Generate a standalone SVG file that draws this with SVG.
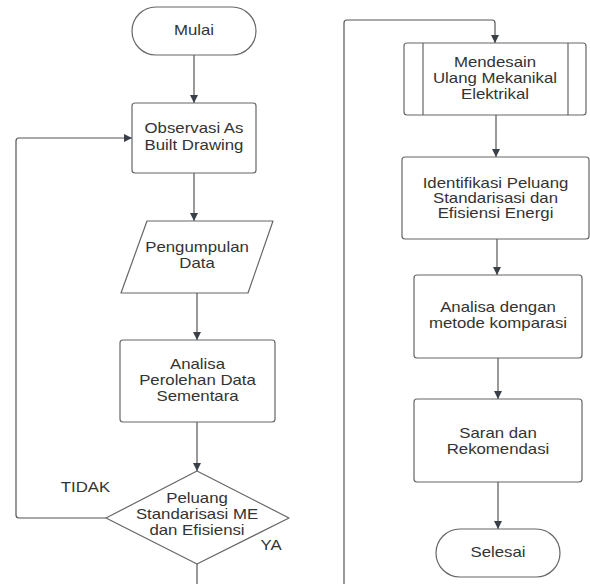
<svg xmlns="http://www.w3.org/2000/svg" width="590" height="584" viewBox="0 0 590 584">
<style>
.s{fill:#fff;stroke:#666;stroke-width:1.2}
.c{fill:none;stroke:#555;stroke-width:1.2}
.t{font-family:"Liberation Sans",Arial,sans-serif;font-size:14px;fill:#333;text-anchor:middle}
</style>
<defs>
<marker id="ah" viewBox="0 0 10 10" markerWidth="9" markerHeight="8" markerUnits="userSpaceOnUse" refX="10" refY="5" orient="auto">
<path d="M0,0 L10,5 L0,10 z" fill="#3a4048"/>
</marker>
</defs>
<rect width="590" height="584" fill="#fff"/>
<g id="connectors">
<path class="c" d="M194 55 V103" marker-end="url(#ah)"/>
<path class="c" d="M194 173 V221" marker-end="url(#ah)"/>
<path class="c" d="M197 293 V340" marker-end="url(#ah)"/>
<path class="c" d="M197 422 V471" marker-end="url(#ah)"/>
<path class="c" d="M106 518 H19 Q16 518 16 515 V141 Q16 138 19 138 H132" marker-end="url(#ah)"/>
<path class="c" d="M197 564 V584"/>
<path class="c" d="M344 584 V23 Q344 20 347 20 H492 Q495 20 495 23 V43" marker-end="url(#ah)"/>
<path class="c" d="M496 115 V157" marker-end="url(#ah)"/>
<path class="c" d="M497 239 V275" marker-end="url(#ah)"/>
<path class="c" d="M498 358 V399" marker-end="url(#ah)"/>
<path class="c" d="M498 482 V529" marker-end="url(#ah)"/>
</g>
<g id="mulai">
<rect class="s" x="132" y="7" width="124" height="48" rx="24"/>
<text class="t" transform="translate(194 35) scale(1.2 1)">Mulai</text>
</g>
<g id="observasi">
<rect class="s" x="132" y="103" width="124" height="70" rx="3"/>
<text class="t" transform="translate(194 133) scale(1.2 1)"><tspan x="0">Observasi As</tspan><tspan x="0" dy="17">Built Drawing</tspan></text>
</g>
<g id="pengumpulan">
<path class="s" d="M147 221 H273 L248 293 H121 Z" stroke-linejoin="round"/>
<text class="t" transform="translate(197 252) scale(1.2 1)"><tspan x="0">Pengumpulan</tspan><tspan x="0" dy="16">Data</tspan></text>
</g>
<g id="analisa">
<rect class="s" x="120" y="340" width="155" height="82" rx="3"/>
<text class="t" transform="translate(197.5 369) scale(1.2 1)"><tspan x="0">Analisa</tspan><tspan x="0" dy="16">Perolehan Data</tspan><tspan x="0" dy="16">Sementara</tspan></text>
</g>
<g id="peluang">
<path class="s" d="M197 471 L289 518 L197 564 L106 518 Z" stroke-linejoin="round"/>
<text class="t" transform="translate(197 503) scale(1.2 1)"><tspan x="0">Peluang</tspan><tspan x="0" dy="16">Standarisasi ME</tspan><tspan x="0" dy="16">dan Efisiensi</tspan></text>
</g>
<g id="label-tidak">
<text class="t" transform="translate(85.5 492) scale(1.2 1)">TIDAK</text>
</g>
<g id="label-ya">
<text class="t" transform="translate(271 550) scale(1.2 1)">YA</text>
</g>
<g id="mendesain">
<rect class="s" x="404" y="43" width="182" height="72" rx="3"/>
<path class="s" d="M423 43 V115 M568 43 V115"/>
<text class="t" transform="translate(495 67) scale(1.2 1)"><tspan x="0">Mendesain</tspan><tspan x="0" dy="16">Ulang Mekanikal</tspan><tspan x="0" dy="16">Elektrikal</tspan></text>
</g>
<g id="identifikasi">
<rect class="s" x="402" y="157" width="187" height="82" rx="3"/>
<text class="t" transform="translate(495.5 188) scale(1.2 1)"><tspan x="0">Identifikasi Peluang</tspan><tspan x="0" dy="15">Standarisasi dan</tspan><tspan x="0" dy="15">Efisiensi Energi</tspan></text>
</g>
<g id="analisa-komparasi">
<rect class="s" x="414" y="275" width="168" height="83" rx="3"/>
<text class="t" transform="translate(498 312) scale(1.2 1)"><tspan x="0">Analisa dengan</tspan><tspan x="0" dy="16">metode komparasi</tspan></text>
</g>
<g id="saran">
<rect class="s" x="414" y="399" width="168" height="83" rx="3"/>
<text class="t" transform="translate(498 438) scale(1.2 1)"><tspan x="0">Saran dan</tspan><tspan x="0" dy="16">Rekomendasi</tspan></text>
</g>
<g id="selesai">
<rect class="s" x="436" y="529" width="124" height="48" rx="24"/>
<text class="t" transform="translate(498 557) scale(1.2 1)">Selesai</text>
</g>
</svg>
